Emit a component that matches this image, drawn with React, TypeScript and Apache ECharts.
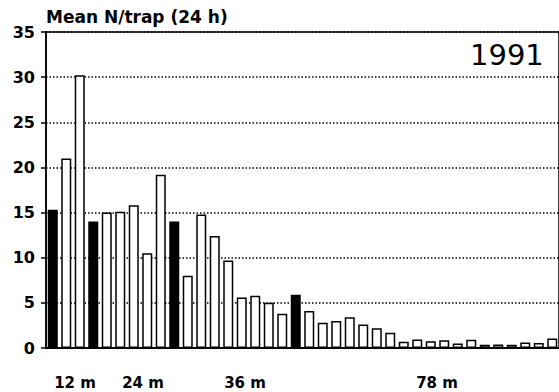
import React, { useEffect, useRef } from "react";
import * as echarts from "echarts";

const values = [
  15.3, 21.0, 30.2, 14.0, 15.0, 15.1, 15.8, 10.5, 19.2, 14.0,
  8.0, 14.8, 12.4, 9.7, 5.6, 5.8, 5.0, 3.8, 5.9, 4.1,
  2.8, 3.0, 3.4, 2.6, 2.2, 1.7, 0.7, 0.95, 0.75, 0.85,
  0.5, 0.9, 0.35, 0.4, 0.35, 0.6, 0.55, 1.05,
];
const darkBars = [0, 3, 9, 18];
const categories = values.map((_, i) => String(i + 1));
const depthLabels = ["12 m", "24 m", "36 m", "78 m"];
const depthLabelX = [75, 143, 245, 437];
const yTicks = [0, 5, 10, 15, 20, 25, 30, 35];

const FONT = "DejaVu Sans";

export default function App() {
  const ref = useRef<HTMLDivElement>(null);
  useEffect(() => {
    if (!ref.current) return;
    const chart = echarts.init(ref.current, null, { renderer: "svg" });
    chart.setOption({
      animation: false,
      backgroundColor: "#fff",
      grid: {
        left: 46,
        top: 32,
        width: 518,
        bottom: 44,
        show: true,
        borderColor: "#000",
        borderWidth: 1.5,
        backgroundColor: "transparent",
      },
      xAxis: {
        type: "category",
        data: categories,
        axisLine: { lineStyle: { color: "#000", width: 2 } },
        axisTick: { alignWithLabel: true, length: 4, lineStyle: { color: "#000", width: 1.5 } },
        axisLabel: { show: false },
        splitLine: { show: false },
      },
      yAxis: {
        type: "value",
        min: yTicks[0],
        max: yTicks[yTicks.length - 1],
        interval: 5,
        axisLine: { show: true, lineStyle: { color: "#000", width: 1.5 } },
        axisTick: { show: true, length: 5, lineStyle: { color: "#000", width: 1.5 } },
        axisLabel: {
          margin: 11,
          color: "#000",
          fontFamily: FONT,
          fontWeight: "bold",
          fontSize: 16,
        },
        splitLine: {
          show: true,
          lineStyle: { color: "#000", type: [1.5, 2], width: 1.5 },
        },
      },
      series: [
        {
          type: "bar",
          barWidth: 10,
          data: values.map((v, i) => ({
            value: v,
            itemStyle: darkBars.includes(i)
              ? { color: "#000", borderColor: "#000", borderWidth: 1.5 }
              : { color: "#fff", borderColor: "#000", borderWidth: 1.5 },
          })),
        },
      ],
      graphic: [
        {
          type: "text",
          left: 46,
          top: 8,
          style: {
            text: "Mean N/trap (24 h)",
            font: `bold 17px "${FONT}"`,
            fill: "#000",
          },
        },
        {
          type: "text",
          left: 470,
          top: 40,
          style: {
            text: "1991",
            font: `29px "${FONT}"`,
            fill: "#000",
          },
        },
        ...depthLabels.map((t, i) => ({
          type: "text",
          x: depthLabelX[i],
          y: 383,
          style: {
            text: t,
            font: `bold 15px "${FONT}"`,
            fill: "#000",
            align: "center",
            verticalAlign: "middle",
          },
        })),
      ],
    });
    return () => chart.dispose();
  }, []);
  return <div ref={ref} style={{ width: 559, height: 392, position: "absolute", left: 0, top: 0 }} />;
}
